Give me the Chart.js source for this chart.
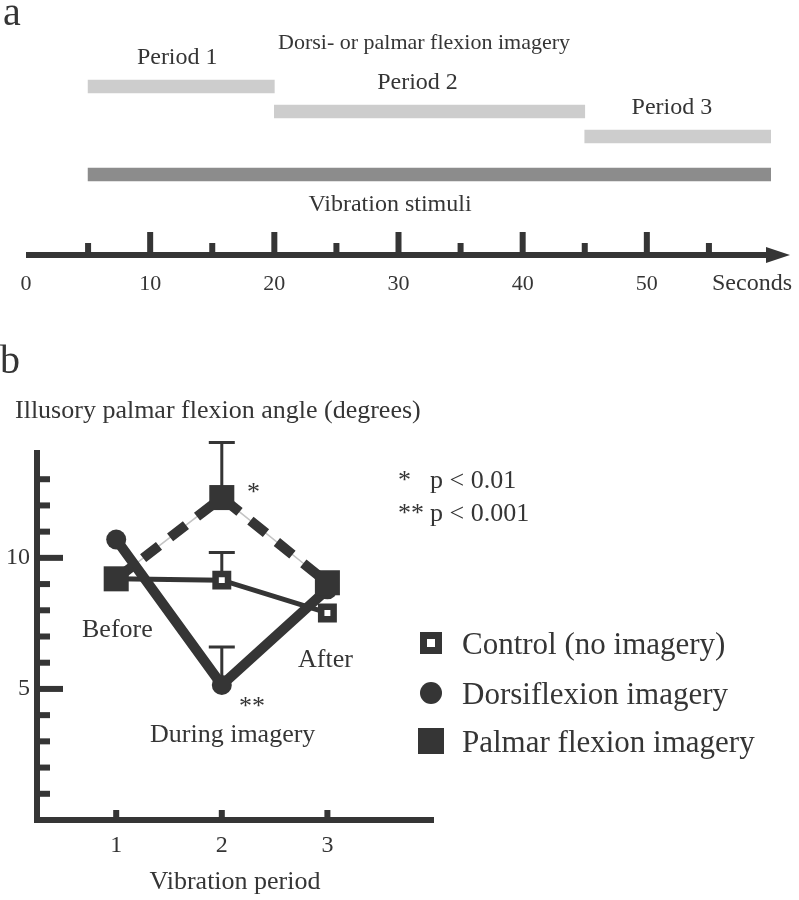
<!DOCTYPE html>
<html>
<head>
<meta charset="utf-8">
<script src="https://cdn.jsdelivr.net/npm/chart.js@4.4.1/dist/chart.umd.min.js"></script>
<style>
  body { margin: 0; background: #fff; width: 799px; height: 900px; position: relative; overflow: hidden; }
  canvas { position: absolute; left: 0; }
  #timeline { top: 0; }
  #angles { top: 330px; }
</style>
</head>
<body>
<canvas id="timeline" width="799" height="320"></canvas>
<canvas id="angles" width="799" height="570"></canvas>
<script>
// ---- panel a : timeline (seconds) ----
const periodNames = ["Period 1", "Period 2", "Period 3"];
const periodStart = [5, 20, 45];
const periodEnd = [20, 45, 60];
const stimulusName = "Vibration stimuli";
const stimulusStart = 5;
const stimulusEnd = 60;
const secondLabels = [0, 10, 20, 30, 40, 50];
const majorSeconds = [10, 20, 30, 40, 50];
const minorSeconds = [5, 15, 25, 35, 45, 55];

// ---- panel b : illusory palmar flexion angle (degrees) ----
const vibPeriods = [1, 2, 3];
const controlMean = [9.2, 9.15, 7.9];
const controlErr = [0, 1.05, 0];
const dorsiMean = [10.7, 5.15, 8.8];
const dorsiErr = [0, 1.45, 0];
const palmarMean = [9.2, 12.3, 9.05];
const palmarErr = [0, 2.1, 0];
const angleLabelTicks = [5, 10];
const angleMarkTicks = [1, 2, 3, 4, 5, 6, 7, 8, 9, 10, 11, 12, 13];
const seriesNames = ["Control (no imagery)", "Dorsiflexion imagery", "Palmar flexion imagery"];

const SERIF = '"Liberation Serif", "DejaVu Serif", serif';
const INK = "#353535";
Chart.defaults.font.family = SERIF;
Chart.defaults.color = INK;

// time axis with arrow, drawn from the x scale
const timeAxis = {
  id: "timeAxis",
  afterDraw(chart) {
    const {ctx, scales: {x}} = chart;
    const axisY = 255;
    ctx.save();
    ctx.fillStyle = INK;
    ctx.strokeStyle = INK;
    ctx.lineWidth = 6;
    ctx.beginPath();
    ctx.moveTo(x.getPixelForValue(0), axisY);
    ctx.lineTo(768, axisY);
    ctx.stroke();
    ctx.beginPath();
    ctx.moveTo(766, axisY - 8);
    ctx.lineTo(790, axisY);
    ctx.lineTo(766, axisY + 8);
    ctx.closePath();
    ctx.fill();
    majorSeconds.forEach(s => {
      const px = x.getPixelForValue(s);
      ctx.fillRect(px - 3, axisY - 23, 6, 23);
    });
    minorSeconds.forEach(s => {
      const px = x.getPixelForValue(s);
      ctx.fillRect(px - 3, axisY - 12, 6, 12);
    });
    ctx.font = "22px " + SERIF;
    ctx.textAlign = "center";
    secondLabels.forEach(s => ctx.fillText(String(s), x.getPixelForValue(s), 290));
    ctx.font = "24px " + SERIF;
    ctx.textAlign = "left";
    ctx.fillText("Seconds", 712, 290);

    // titles
    ctx.font = "40px " + SERIF;
    ctx.fillText("a", 3, 25);
    ctx.font = "22px " + SERIF;
    ctx.textAlign = "center";
    ctx.fillText("Dorsi- or palmar flexion imagery", 424, 49);
    ctx.font = "24px " + SERIF;
    const shifts = [-4, -12, -6];
    const bars = chart.getDatasetMeta(0).data;
    periodNames.forEach((name, i) => {
      const cx = x.getPixelForValue((periodStart[i] + periodEnd[i]) / 2) + shifts[i];
      ctx.fillText(name, cx, bars[i].y - 23);
    });
    ctx.fillText(stimulusName, 390, 211);
    ctx.restore();
  }
};

new Chart(document.getElementById("timeline"), {
  type: "bar",
  data: {
    datasets: [{
      data: periodNames.map((n, i) => ({x: [periodStart[i], periodEnd[i]], y: i + 1}))
        .concat([{x: [stimulusStart, stimulusEnd], y: 4.52}]),
      backgroundColor: ["#cdcdcd", "#cdcdcd", "#cdcdcd", "#8c8c8c"],
      borderWidth: 0,
      barThickness: 13
    }]
  },
  options: {
    indexAxis: "y",
    responsive: false,
    animation: false,
    devicePixelRatio: 1,
    layout: {padding: {left: 26, right: 28, top: 61.5, bottom: 8.5}},
    plugins: {legend: {display: false}, tooltip: {enabled: false}},
    scales: {
      x: {type: "linear", min: 0, max: 60, display: false},
      y: {type: "linear", min: 0, max: 10, reverse: true, offset: false, display: false}
    }
  },
  plugins: [timeAxis]
});

// error bars (upper side only), behind the markers
const errorBars = {
  id: "errorBars",
  beforeDatasetsDraw(chart) {
    const {ctx, scales: {x, y}} = chart;
    ctx.save();
    ctx.strokeStyle = INK;
    ctx.lineWidth = 3;
    [[controlMean, controlErr], [dorsiMean, dorsiErr], [palmarMean, palmarErr]].forEach(([m, e]) => {
      vibPeriods.forEach((p, i) => {
        if (!e[i]) return;
        const px = x.getPixelForValue(p);
        const y0 = y.getPixelForValue(m[i]);
        const y1 = y.getPixelForValue(m[i] + e[i]);
        ctx.beginPath();
        ctx.moveTo(px, y0);
        ctx.lineTo(px, y1);
        ctx.moveTo(px - 13, y1);
        ctx.lineTo(px + 13, y1);
        ctx.stroke();
      });
    });
    ctx.restore();
  }
};

// inward tick marks, legend and notes
const angleDecor = {
  id: "angleDecor",
  afterDraw(chart) {
    const {ctx, scales: {x, y}} = chart;
    const area = chart.chartArea;
    ctx.save();
    ctx.fillStyle = INK;
    angleMarkTicks.forEach(v => {
      const py = y.getPixelForValue(v);
      const len = angleLabelTicks.includes(v) ? 26 : 13;
      ctx.fillRect(area.left, py - 3, len, 6);
    });
    vibPeriods.forEach(p => {
      const px = x.getPixelForValue(p);
      ctx.fillRect(px - 3, area.bottom - 10, 6, 10);
    });

    ctx.textAlign = "left";
    ctx.font = "40px " + SERIF;
    ctx.fillText("b", 0, 43);
    ctx.font = "26px " + SERIF;
    ctx.fillText("Illusory palmar flexion angle (degrees)", 15, 88);
    ctx.fillText("*", 398, 158);
    ctx.fillText("p < 0.01", 430, 158);
    ctx.fillText("**", 398, 191);
    ctx.fillText("p < 0.001", 430, 191);
    ctx.fillText("Before", 82, 307);
    ctx.fillText("After", 298, 337);
    ctx.fillText("During imagery", 150, 412);
    ctx.fillText("*", 247, 170);
    ctx.fillText("**", 239, 384);

    // legend
    const lx = 431;
    const rows = [313, 363, 411];
    ctx.fillRect(lx - 11, rows[0] - 11, 22, 22);
    ctx.fillStyle = "#fff";
    ctx.fillRect(lx - 4, rows[0] - 4, 8, 8);
    ctx.fillStyle = INK;
    ctx.beginPath();
    ctx.arc(lx, rows[1], 11, 0, Math.PI * 2);
    ctx.fill();
    ctx.fillRect(lx - 13, rows[2] - 13, 26, 26);
    ctx.font = "31px " + SERIF;
    seriesNames.forEach((name, i) => ctx.fillText(name, 462, rows[i] + 11));
    ctx.restore();
  }
};

const xy = arr => vibPeriods.map((p, i) => ({x: p, y: arr[i]}));

new Chart(document.getElementById("angles"), {
  type: "line",
  data: {
    datasets: [
      {
        label: seriesNames[2], data: xy(palmarMean), order: 0,
        borderColor: INK, borderWidth: 10, borderDash: [20, 14], borderCapStyle: "butt",
        pointStyle: "rect", pointRadius: 17.7, pointBackgroundColor: INK, pointBorderWidth: 0
      },
      {
        label: "guide", data: xy(palmarMean), order: 3,
        borderColor: "#c4c4c4", borderWidth: 1.5, pointRadius: 0
      },
      {
        label: seriesNames[1], data: xy(dorsiMean), order: 1,
        borderColor: INK, borderWidth: 10, borderJoinStyle: "round", borderCapStyle: "round",
        pointStyle: "circle", pointRadius: 10, pointBackgroundColor: INK, pointBorderWidth: 0
      },
      {
        label: seriesNames[0], data: xy(controlMean), order: 2,
        borderColor: INK, borderWidth: 5,
        pointStyle: "rect", pointRadius: 8.8, pointBackgroundColor: "#fff",
        pointBorderColor: INK, pointBorderWidth: 6.5
      }
    ]
  },
  options: {
    responsive: false,
    animation: false,
    devicePixelRatio: 1,
    layout: {padding: {left: 0, right: 366, top: 123, bottom: 0}},
    plugins: {legend: {display: false}, tooltip: {enabled: false}},
    scales: {
      x: {
        type: "linear", min: 0.25, max: 4,
        afterBuildTicks: s => { s.ticks = vibPeriods.map(v => ({value: v})); },
        afterFit: s => { s.height = 80; },
        grid: {display: false, drawTicks: false},
        border: {display: true, width: 6, color: INK},
        ticks: {font: {size: 24}, color: INK, padding: 11},
        title: {display: true, text: "Vibration period", font: {size: 26}, color: INK, padding: {top: 0, bottom: 2}}
      },
      y: {
        type: "linear", min: 0, max: 14,
        afterBuildTicks: s => { s.ticks = angleLabelTicks.map(v => ({value: v})); },
        afterFit: s => { s.width = 37; },
        grid: {display: false, drawTicks: false},
        border: {display: true, width: 6, color: INK},
        ticks: {font: {size: 24}, color: INK, padding: 7}
      }
    }
  },
  plugins: [errorBars, angleDecor]
});
</script>
</body>
</html>
